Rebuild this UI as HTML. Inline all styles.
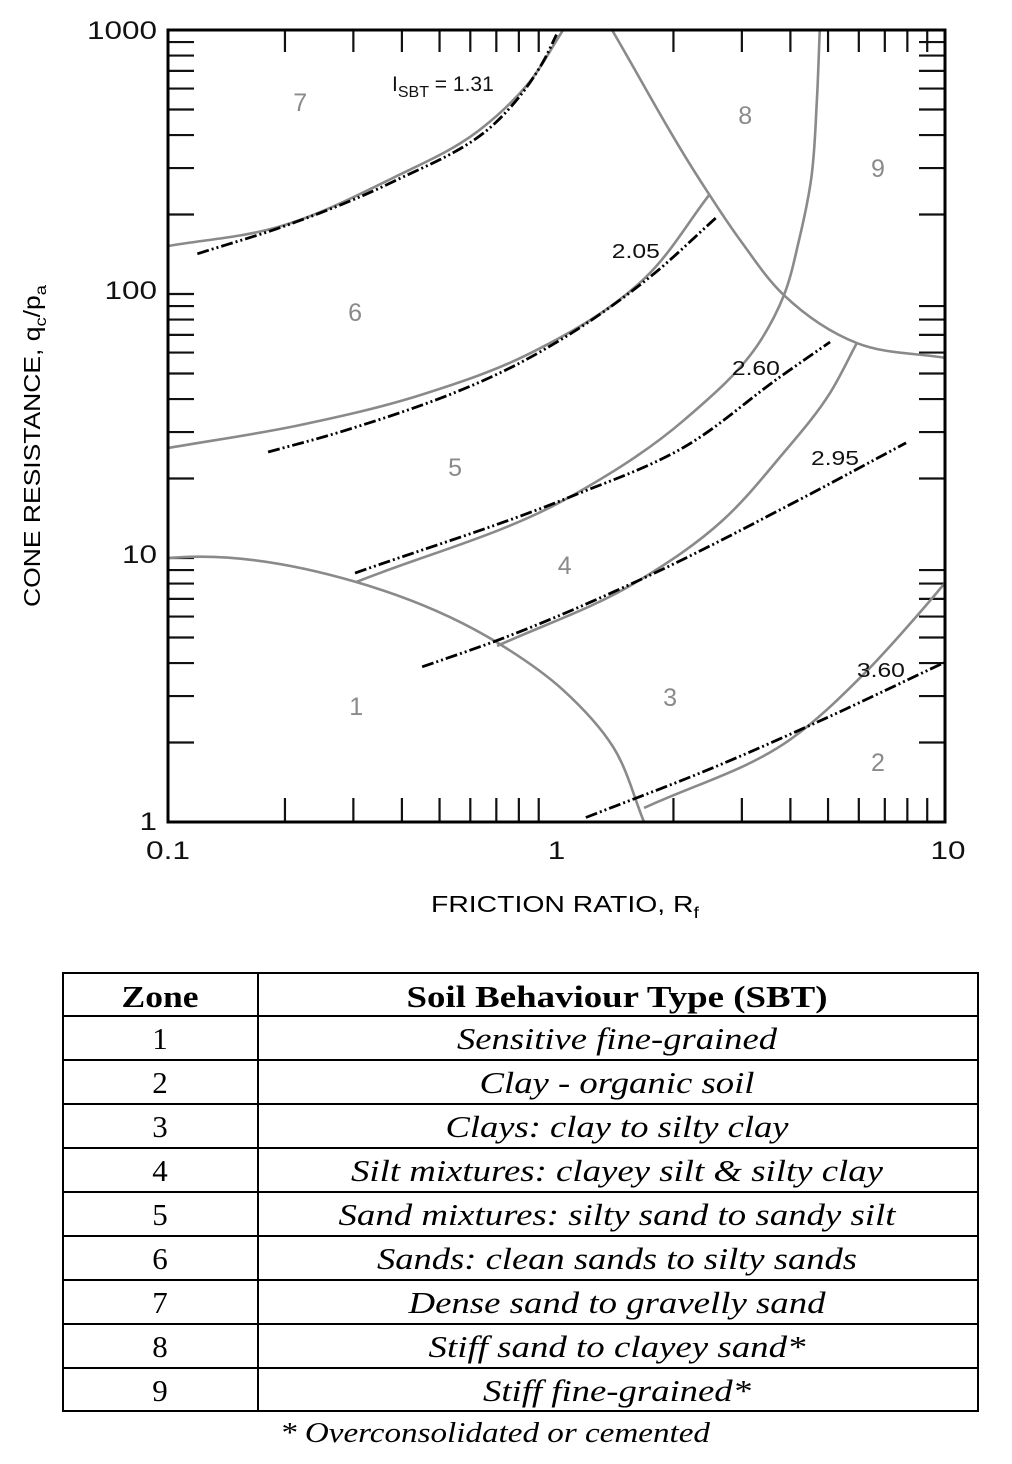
<!DOCTYPE html>
<html><head><meta charset="utf-8"><style>
html,body{margin:0;padding:0;background:#fff;}
svg{display:block;}
</style></head><body>
<svg id="chart" width="1012" height="1464" viewBox="0 0 1012 1464" xmlns="http://www.w3.org/2000/svg" font-family="Liberation Sans, sans-serif">
<g id="plot"></g>
<text transform="translate(40,446) rotate(-90)" text-anchor="middle" font-size="23" textLength="322" lengthAdjust="spacingAndGlyphs">CONE RESISTANCE, q<tspan font-size="16" dy="6">c</tspan><tspan dy="-6">/p</tspan><tspan font-size="16" dy="6">a</tspan></text>
<text x="565" y="912" text-anchor="middle" font-size="23" textLength="268" lengthAdjust="spacingAndGlyphs">FRICTION RATIO, R<tspan font-size="16" dy="6">f</tspan></text>
<g id="table" font-family="Liberation Serif, serif"></g>
</svg>
<script>
const ticksX=[0.1,1,10];
const ticksY=[1,10,100,1000];
const tickLabelsX=['0.1','1','10'];
const tickLabelsY=['1','10','100','1000'];
// gray zone boundaries [Rf, Q]
const boundA=[[0.1,152],[0.191,179],[0.379,275],[0.624,411],[0.84,619],[1.04,1000]];
const boundB=[[0.1,26.1],[0.219,31.9],[0.446,41.4],[0.859,59.8],[1.7,116],[2.47,237]];
const boundC=[[1.39,1000],[2.34,270],[2.97,160],[3.85,99],[5.93,65.2],[10,57.3]];
const boundD=[[0.305,8.11],[1.08,17.0],[2.13,33.3],[3.36,67],[3.85,99],[4.21,160],[4.52,270],[4.68,543],[4.76,1000]];
const boundE=[[0.703,4.64],[1.59,8.04],[2.68,13.9],[3.76,24.1],[5.06,42.2],[5.93,65.2]];
const boundF=[[0.1,10],[0.114,10.1],[0.305,8.11],[0.706,4.77],[1.04,3.16],[1.4,1.92],[1.68,1]];
const boundG=[[1.68,1.13],[3.99,2.05],[6.22,3.67],[8.42,5.98],[10,8.04]];
// Ic contours
const ic131=[[0.119,142],[0.202,182],[0.379,266],[0.687,437],[0.923,757],[1.0,960]];
const ic205=[[0.181,25.2],[0.277,30],[0.859,57.7],[1.74,116],[2.59,196]];
const ic260=[[0.303,8.77],[1.08,17.0],[2.13,26.3],[3.76,48.5],[5.06,65.8]];
const ic295=[[0.451,3.87],[0.687,4.81],[1.7,8.47],[4.21,16.6],[7.94,27.3]];
const ic360=[[1.19,1.04],[2.54,1.61],[4.63,2.37],[10,4.03]];
const zoneLabels=['7','8','9','6','5','4','1','3','2'];
const zonePos=[[0.219,533],[3.06,476],[6.72,300],[0.303,85.5],[0.548,22.1],[1.05,9.4],[0.305,2.75],[1.96,2.97],[6.72,1.69]];
const icLabels=['2.05','2.60','2.95','3.60'];
const icPos=[[1.6,137],[3.26,49.3],[5.21,22.5],[6.84,3.54]];
const zones=['1','2','3','4','5','6','7','8','9'];
const soilTypes=['Sensitive fine-grained','Clay - organic soil','Clays: clay to silty clay','Silt mixtures: clayey silt & silty clay','Sand mixtures: silty sand to sandy silt','Sands: clean sands to silty sands','Dense sand to gravelly sand','Stiff sand to clayey sand*','Stiff fine-grained*'];
const soilWidths=[320,275,343,532,557,480,417,377,268];

const NS='http://www.w3.org/2000/svg';
const X0=168,X1=945,Y0=822,Y1=30;
function sx(v){return X0+(Math.log10(v)+1)/2*(X1-X0);}
function sy(v){return Y0-Math.log10(v)/3*(Y0-Y1);}
const plot=document.getElementById('plot');
function mk(tag,attrs,parent){const e=document.createElementNS(NS,tag);for(const k in attrs)e.setAttribute(k,attrs[k]);(parent||plot).appendChild(e);return e;}
function pathFor(pts){
  const p=pts.map(d=>[sx(d[0]),sy(d[1])]);
  const n=p.length;
  const L=[];for(let i=0;i<n-1;i++)L.push(Math.hypot(p[i+1][0]-p[i][0],p[i+1][1]-p[i][1])||1);
  const T=[];
  for(let i=0;i<n;i++){
    if(i==0)T.push([(p[1][0]-p[0][0])/L[0],(p[1][1]-p[0][1])/L[0]]);
    else if(i==n-1)T.push([(p[i][0]-p[i-1][0])/L[i-1],(p[i][1]-p[i-1][1])/L[i-1]]);
    else{
      const a=[(p[i][0]-p[i-1][0])/L[i-1],(p[i][1]-p[i-1][1])/L[i-1]];
      const b=[(p[i+1][0]-p[i][0])/L[i],(p[i+1][1]-p[i][1])/L[i]];
      const w1=L[i],w2=L[i-1];
      let t=[(a[0]*w1+b[0]*w2)/(w1+w2),(a[1]*w1+b[1]*w2)/(w1+w2)];
      const m=Math.hypot(t[0],t[1])||1;T.push([t[0]/m,t[1]/m]);
    }
  }
  let s='M'+p[0][0]+','+p[0][1];
  for(let i=0;i<n-1;i++){
    const h=L[i]/3;
    s+=' C'+(p[i][0]+T[i][0]*h)+','+(p[i][1]+T[i][1]*h)+' '+(p[i+1][0]-T[i+1][0]*h)+','+(p[i+1][1]-T[i+1][1]*h)+' '+p[i+1][0]+','+p[i+1][1];
  }
  return s;
}
function labelWidth(s){let w=0;for(const ch of s)w+=(ch=='.'?9:17.5);return w;}
// ticks
for(let dec=-1;dec<1;dec++)for(let m=2;m<=9;m++){
  const x=sx(m*Math.pow(10,dec));
  const t1=mk('line',{x1:x,y1:Y0,x2:x,y2:Y0-24,stroke:'#111','stroke-width':2.2});
  
  
  const t2=mk('line',{x1:x,y1:Y1,x2:x,y2:Y1+22,stroke:'#111','stroke-width':2.2});
  
  
}
for(let dec=0;dec<3;dec++)for(let m=2;m<=9;m++){
  const y=sy(m*Math.pow(10,dec));
  const t1=mk('line',{x1:X0,y1:y,x2:X0+26,y2:y,stroke:'#111','stroke-width':2.2});
  
  
  const t2=mk('line',{x1:X1,y1:y,x2:X1-26,y2:y,stroke:'#111','stroke-width':2.2});
  
  
}
[10,100].forEach(v=>{
  const t=mk('line',{x1:X0,y1:sy(v),x2:X0+26,y2:sy(v),stroke:'#111','stroke-width':2.2});
  
  
});
// boundaries
[boundA,boundB,boundC,boundD,boundE,boundF,boundG].forEach((b,i)=>{
  const e=mk('path',{d:pathFor(b),fill:'none',stroke:'#8a8a8a','stroke-width':2.6});
  
  
});
[ic131,ic205,ic260,ic295,ic360].forEach((b,i)=>{
  const e=mk('path',{d:pathFor(b),fill:'none',stroke:'#000','stroke-width':2.8,'stroke-dasharray':'12 3 2 3 2 3'});
  
  
});
// frame
const fr=mk('rect',{x:X0,y:Y1,width:X1-X0,height:Y0-Y1,fill:'none',stroke:'#000','stroke-width':3});


// tick labels
ticksX.forEach((v,i)=>{
  const t=mk('text',{x:sx(v)+(i==2?3:0),y:Y0+37,'text-anchor':'middle','font-size':25,fill:'#111',textLength:labelWidth(tickLabelsX[i]),lengthAdjust:'spacingAndGlyphs'});
  
  
  t.textContent=tickLabelsX[i];
});
ticksY.forEach((v,i)=>{
  const t=mk('text',{x:X0-11,y:sy(v)+(i==3?9:(i==0?8:5)),'text-anchor':'end','font-size':25,fill:'#111',textLength:labelWidth(tickLabelsY[i]),lengthAdjust:'spacingAndGlyphs'});
  
  
  t.textContent=tickLabelsY[i];
});
zoneLabels.forEach((z,i)=>{
  const t=mk('text',{x:sx(zonePos[i][0]),y:sy(zonePos[i][1])+9,'text-anchor':'middle','font-size':25,fill:'#8a8a8a'});
  
  
  t.textContent=z;
});
const l0=mk('text',{x:392,y:91,'font-size':21,fill:'#111'});


l0.innerHTML='I<tspan font-size="16" dy="6">SBT</tspan><tspan dy="-6"> = 1.31</tspan>';
icLabels.forEach((s,i)=>{
  const t=mk('text',{x:sx(icPos[i][0]),y:sy(icPos[i][1]),'text-anchor':'middle','font-size':20,fill:'#111',textLength:48,lengthAdjust:'spacingAndGlyphs'});
  
  
  t.textContent=s;
});
// table
const tb=document.getElementById('table');
const TL=63,TR=978,TC=258,TT=973;
const rowY=[973,1016,1060,1104,1148,1192,1236,1280,1324,1368,1411];
const box=mk('rect',{x:TL,y:TT,width:TR-TL,height:1411-TT,fill:'none',stroke:'#000','stroke-width':2},tb);


mk('line',{x1:TC,y1:TT,x2:TC,y2:1411,stroke:'#000','stroke-width':2},tb);
for(let i=1;i<rowY.length-1;i++){
  const l=mk('line',{x1:TL,y1:rowY[i],x2:TR,y2:rowY[i],stroke:'#000','stroke-width':2},tb);
  
  
}
const h1=mk('text',{x:160,y:1007,'text-anchor':'middle','font-size':31,'font-weight':'bold',textLength:77,lengthAdjust:'spacingAndGlyphs'},tb);


h1.textContent='Zone';
const h2=mk('text',{x:617,y:1007,'text-anchor':'middle','font-size':31,'font-weight':'bold',textLength:421,lengthAdjust:'spacingAndGlyphs'},tb);


h2.textContent='Soil Behaviour Type (SBT)';
zones.forEach((z,i)=>{
  const y=rowY[i+1]+33;
  const a=mk('text',{x:160,y:y,'text-anchor':'middle','font-size':31},tb);
  
  
  a.textContent=z;
  const b=mk('text',{x:617,y:y,'text-anchor':'middle','font-size':31,'font-style':'italic',textLength:soilWidths[i],lengthAdjust:'spacingAndGlyphs'},tb);
  
  
  b.textContent=soilTypes[i];
});
const fn=mk('text',{x:495,y:1442,'text-anchor':'middle','font-size':29,'font-style':'italic',textLength:430,lengthAdjust:'spacingAndGlyphs'},tb);


fn.textContent='* Overconsolidated or cemented';
</script>
</body></html>
